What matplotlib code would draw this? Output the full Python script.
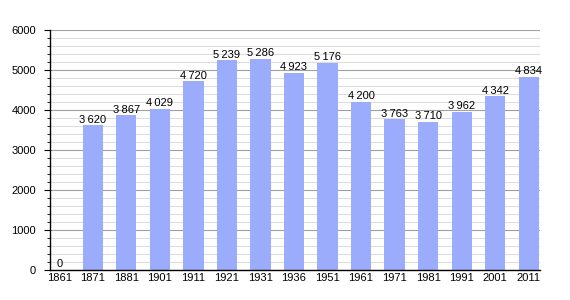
import numpy as np
import matplotlib.pyplot as plt
from matplotlib.ticker import MultipleLocator

# data
years = ["1861", "1871", "1881", "1901", "1911", "1921", "1931", "1936",
         "1951", "1961", "1971", "1981", "1991", "2001", "2011"]
population = [0, 3620, 3867, 4029, 4720, 5239, 5286, 4923,
              5176, 4200, 3763, 3710, 3962, 4342, 4834]

plt.rcParams['font.family'] = ['Liberation Sans', 'DejaVu Sans']

bar_color = "#9aacfb"

fig = plt.figure(figsize=(5.7, 3.0), dpi=100)
ax = fig.add_axes([50 / 570, 30 / 300, 490 / 570, 240 / 300])

x = np.arange(len(years))
ax.bar(x, population, width=0.6, color=bar_color, zorder=2)

for xi, v in zip(x, population):
    label = f"{v:,}".replace(",", "\u2009") if v else "0"
    ax.text(xi, v + 15, label, ha='center', va='bottom', fontsize=8, zorder=3)

ax.set_xlim(-0.28, 14.34)
ax.set_ylim(0, 6000)
ax.set_xticks(x)
ax.set_xticklabels(years)
ax.yaxis.set_major_locator(MultipleLocator(1000))
ax.yaxis.set_minor_locator(MultipleLocator(200))

ax.grid(axis='y', which='major', color='#a0a0a0', linewidth=0.8, zorder=0)
ax.grid(axis='y', which='minor', color='#dddddd', linewidth=0.8, zorder=0)
ax.set_axisbelow(True)

for s in ['top', 'right']:
    ax.spines[s].set_visible(False)
ax.spines['left'].set_linewidth(1.0)
ax.spines['bottom'].set_linewidth(1.0)

ax.tick_params(axis='x', length=0, labelsize=8, pad=2)
ax.tick_params(axis='y', which='major', length=4, labelsize=8, pad=6)
ax.tick_params(axis='y', which='minor', length=2)

fig.savefig("out.png", dpi=100)
